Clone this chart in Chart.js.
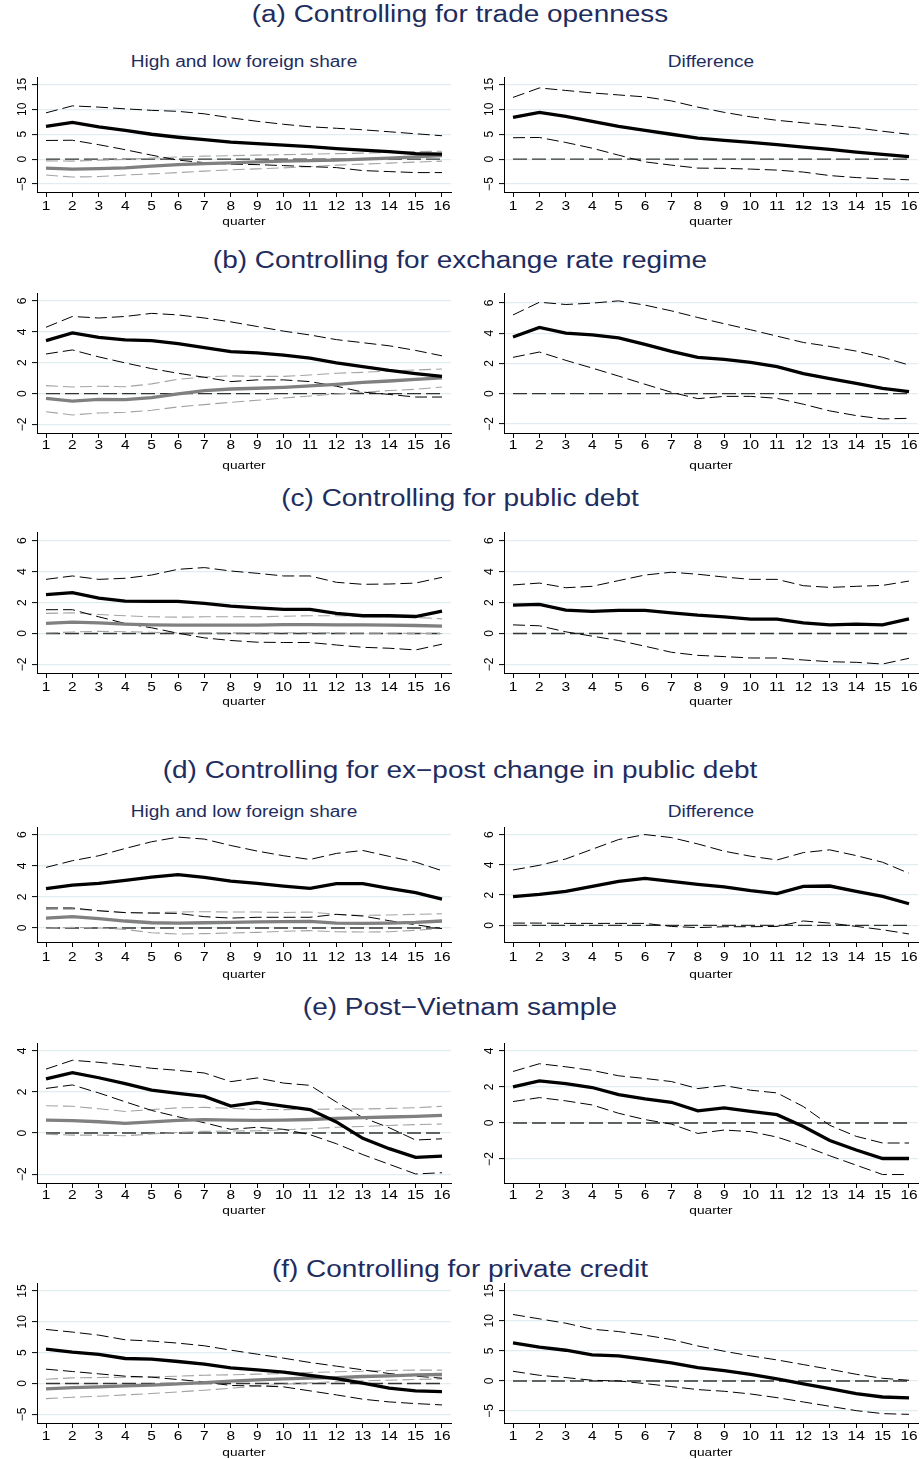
<!DOCTYPE html>
<html>
<head>
<meta charset="utf-8">
<script src="https://cdn.jsdelivr.net/npm/chart.js@4.4.1/dist/chart.umd.min.js"></script>
<style>
  html, body { margin: 0; padding: 0; background: #fff; }
  body { position: relative; width: 920px; height: 1459px; overflow: hidden; }
  .ttl, .sub {
    position: absolute; white-space: nowrap; line-height: 1;
    font-family: 'Liberation Sans', Arial, sans-serif; color: #1e2c5e;
    transform: translate(-50%, -50%) scaleX(1.19);
  }
  .ttl { font-size: 23.5px; left: 460px; }
  .sub { font-size: 16px; }
  canvas { position: absolute; }
</style>
</head>
<body>
<div class="ttl" style="top:15px">(a) Controlling for trade openness</div>
<div class="sub" style="top:62px;left:244px">High and low foreign share</div>
<div class="sub" style="top:62px;left:711px">Difference</div>
<div class="ttl" style="top:261px">(b) Controlling for exchange rate regime</div>
<div class="ttl" style="top:499px">(c) Controlling for public debt</div>
<div class="ttl" style="top:771px">(d) Controlling for ex&#8722;post change in public debt</div>
<div class="sub" style="top:812px;left:244px">High and low foreign share</div>
<div class="sub" style="top:812px;left:711px">Difference</div>
<div class="ttl" style="top:1008px">(e) Post&#8722;Vietnam sample</div>
<div class="ttl" style="top:1270px">(f) Controlling for private credit</div>

<script>
// Horizon (quarters after the shock)
const quarters = [1,2,3,4,5,6,7,8,9,10,11,12,13,14,15,16];

// y tick labels per panel
const ticksA = [-5, 0, 5, 10, 15];
const ticksB = [-2, 0, 2, 4, 6];
const ticksC = [-2, 0, 2, 4, 6];
const ticksD = [0, 2, 4, 6];
const ticksE = [-2, 0, 2, 4];
const ticksF = [-5, 0, 5, 10, 15];

// (a) trade openness
const aHigh   = [6.56,7.37,6.5,5.76,5.0,4.4,3.9,3.4,3.1,2.8,2.5,2.1,1.8,1.5,1.1,1.0];
const aHighUp = [9.3,10.7,10.45,10.1,9.8,9.6,9.1,8.3,7.6,7.0,6.5,6.2,5.9,5.5,5.1,4.7];
const aHighLo = [3.75,3.8,2.9,1.9,0.8,-0.2,-0.7,-1.0,-1.1,-1.3,-1.5,-1.7,-2.3,-2.5,-2.7,-2.7];
const aLow    = [-1.8,-2.0,-1.9,-1.75,-1.4,-1.1,-0.9,-0.75,-0.55,-0.4,-0.3,-0.2,0,0.2,0.45,0.7];
const aLowUp  = [-0.35,-0.4,-0.2,-0.05,0.2,0.45,0.6,0.7,0.8,0.9,1.0,1.1,1.2,1.35,1.5,1.6];
const aLowLo  = [-3.2,-3.6,-3.5,-3.2,-2.95,-2.7,-2.4,-2.15,-1.95,-1.75,-1.5,-1.2,-1.0,-0.8,-0.6,-0.4];
const aDiff   = [8.4,9.4,8.6,7.6,6.6,5.8,5.0,4.2,3.75,3.35,2.9,2.4,1.95,1.4,0.95,0.5];
const aDiffUp = [12.4,14.3,13.8,13.3,12.9,12.5,11.7,10.45,9.4,8.5,7.8,7.3,6.8,6.3,5.6,5.0];
const aDiffLo = [4.3,4.35,3.35,2.2,0.8,-0.55,-1.2,-1.8,-1.85,-2.0,-2.2,-2.6,-3.3,-3.7,-3.95,-4.15];

// (b) exchange rate regime
const bHigh   = [3.44,3.93,3.65,3.48,3.44,3.24,2.98,2.72,2.64,2.5,2.3,2.0,1.75,1.5,1.3,1.12];
const bHighUp = [4.3,5.0,4.9,5.0,5.2,5.1,4.9,4.65,4.35,4.05,3.8,3.5,3.3,3.1,2.8,2.45];
const bHighLo = [2.57,2.83,2.38,1.99,1.62,1.32,1.06,0.78,0.89,0.89,0.78,0.48,0.1,-0.05,-0.22,-0.22];
const bLow    = [-0.3,-0.48,-0.37,-0.39,-0.26,-0.02,0.2,0.3,0.35,0.41,0.5,0.6,0.73,0.82,0.93,1.02];
const bLowUp  = [0.52,0.43,0.48,0.45,0.63,0.93,1.08,1.15,1.12,1.12,1.21,1.32,1.38,1.47,1.53,1.6];
const bLowLo  = [-1.17,-1.38,-1.25,-1.21,-1.08,-0.86,-0.71,-0.56,-0.43,-0.28,-0.15,-0.02,0.09,0.2,0.28,0.43];
const bDiff   = [3.74,4.37,4.0,3.89,3.69,3.25,2.79,2.4,2.26,2.07,1.78,1.32,0.99,0.68,0.35,0.13];
const bDiffUp = [5.2,6.04,5.89,5.98,6.13,5.85,5.47,5.03,4.62,4.22,3.8,3.38,3.12,2.81,2.4,1.89];
const bDiffLo = [2.4,2.75,2.2,1.69,1.16,0.62,0.09,-0.33,-0.18,-0.18,-0.31,-0.7,-1.14,-1.45,-1.67,-1.63];

// (c) public debt
const cHigh   = [2.51,2.64,2.29,2.1,2.08,2.08,1.95,1.77,1.66,1.56,1.56,1.3,1.15,1.15,1.1,1.45];
const cHighUp = [3.5,3.72,3.5,3.57,3.78,4.15,4.26,4.04,3.89,3.72,3.72,3.31,3.18,3.2,3.26,3.63];
const cHighLo = [1.54,1.54,1.08,0.65,0.37,0.02,-0.28,-0.45,-0.56,-0.58,-0.58,-0.74,-0.89,-0.95,-1.06,-0.69];
const cLow    = [0.65,0.74,0.69,0.61,0.56,0.54,0.54,0.54,0.54,0.58,0.58,0.56,0.56,0.54,0.52,0.48];
const cLowUp  = [1.3,1.34,1.23,1.15,1.08,1.06,1.08,1.08,1.08,1.12,1.15,1.15,1.12,1.08,1.04,0.95];
const cLowLo  = [0.03,0.1,0.14,0.12,0.08,0.05,0.04,0.04,0.04,0.05,0.05,0.04,0.03,0.02,0.01,0.0];
const cDiff   = [1.84,1.88,1.51,1.43,1.49,1.49,1.34,1.19,1.08,0.93,0.93,0.69,0.56,0.61,0.56,0.95];
const cDiffUp = [3.14,3.26,2.96,3.05,3.42,3.78,3.96,3.83,3.65,3.5,3.5,3.09,2.98,3.05,3.11,3.39];
const cDiffLo = [0.56,0.5,0.11,-0.17,-0.45,-0.82,-1.21,-1.41,-1.49,-1.58,-1.58,-1.71,-1.82,-1.86,-1.97,-1.6];

// (d) ex-post change in public debt
const dHigh   = [2.53,2.76,2.87,3.06,3.28,3.43,3.26,3.02,2.87,2.7,2.55,2.85,2.85,2.55,2.27,1.86];
const dHighUp = [3.9,4.33,4.65,5.12,5.55,5.85,5.72,5.31,4.95,4.65,4.41,4.8,4.99,4.61,4.24,3.69];
const dHighLo = [1.29,1.29,1.11,0.99,0.96,0.94,0.73,0.64,0.69,0.69,0.69,0.88,0.77,0.47,0.21,-0.04];
const dLow    = [0.64,0.73,0.6,0.45,0.34,0.32,0.34,0.36,0.39,0.41,0.43,0.32,0.3,0.32,0.36,0.45];
const dLowUp  = [1.2,1.22,1.11,1.0,0.98,1.03,1.05,1.03,1.03,1.0,1.03,0.88,0.81,0.84,0.88,0.92];
const dLowLo  = [-0.02,0.04,0,-0.09,-0.3,-0.39,-0.36,-0.32,-0.28,-0.21,-0.17,-0.24,-0.26,-0.24,-0.15,-0.02];
const dDiff   = [1.9,2.05,2.25,2.58,2.91,3.11,2.91,2.71,2.54,2.29,2.1,2.58,2.6,2.25,1.92,1.43];
const dDiffUp = [3.66,3.97,4.39,5.03,5.67,6.0,5.8,5.38,4.9,4.57,4.32,4.81,4.99,4.61,4.17,3.44];
const dDiffLo = [0.15,0.15,0.13,0.13,0.13,0.13,-0.07,-0.15,-0.09,-0.09,-0.07,0.29,0.15,-0.07,-0.29,-0.57];

// (e) post-Vietnam sample
const eHigh   = [2.63,2.94,2.69,2.4,2.09,1.93,1.78,1.31,1.49,1.31,1.14,0.54,-0.26,-0.76,-1.18,-1.12];
const eHighUp = [3.11,3.54,3.44,3.31,3.15,3.05,2.92,2.5,2.68,2.43,2.32,1.51,0.75,0.26,-0.34,-0.28];
const eHighLo = [2.17,2.34,1.95,1.52,1.1,0.79,0.5,0.18,0.28,0.18,-0.08,-0.52,-1.05,-1.52,-1.99,-1.93];
const eLow    = [0.63,0.6,0.55,0.47,0.54,0.62,0.65,0.63,0.62,0.63,0.66,0.71,0.75,0.78,0.81,0.86];
const eLowUp  = [1.33,1.3,1.18,1.05,1.14,1.23,1.25,1.2,1.15,1.14,1.15,1.17,1.17,1.2,1.23,1.3];
const eLowLo  = [-0.06,-0.1,-0.1,-0.13,-0.05,0.03,0.08,0.1,0.11,0.16,0.21,0.28,0.32,0.37,0.41,0.44];
const eDiff   = [2.0,2.34,2.19,1.97,1.58,1.34,1.15,0.67,0.84,0.65,0.46,-0.2,-0.97,-1.5,-1.97,-1.97];
const eDiffUp = [2.86,3.29,3.12,2.92,2.62,2.47,2.3,1.91,2.08,1.82,1.67,0.91,-0.13,-0.74,-1.11,-1.11];
const eDiffLo = [1.19,1.41,1.23,1.0,0.54,0.19,-0.06,-0.58,-0.39,-0.48,-0.78,-1.26,-1.82,-2.34,-2.86,-2.86];

// (f) private credit
const fHigh   = [5.58,5.09,4.71,4.06,3.95,3.57,3.14,2.54,2.22,1.84,1.3,0.81,0.05,-0.76,-1.19,-1.3];
const fHighUp = [8.77,8.34,7.85,7.09,6.88,6.55,6.12,5.41,4.76,4.11,3.41,2.82,2.22,1.62,1.19,0.87];
const fHighLo = [2.33,1.95,1.57,1.19,1.03,0.65,0.27,-0.32,-0.38,-0.54,-1.19,-1.84,-2.54,-2.98,-3.25,-3.47];
const fLow    = [-0.87,-0.65,-0.54,-0.38,-0.27,-0.05,0.16,0.38,0.6,0.76,0.87,0.97,1.14,1.25,1.41,1.46];
const fLowUp  = [0.7,0.92,0.97,1.03,1.08,1.19,1.35,1.41,1.52,1.62,1.79,1.9,2.0,2.11,2.17,2.17];
const fLowLo  = [-2.44,-2.22,-2.06,-1.84,-1.62,-1.35,-1.08,-0.76,-0.43,-0.11,0.11,0.27,0.43,0.54,0.65,0.76];
const fDiff   = [6.33,5.61,5.11,4.33,4.17,3.61,3.0,2.22,1.72,1.11,0.33,-0.5,-1.28,-2.11,-2.67,-2.83];
const fDiffUp = [11.06,10.33,9.61,8.61,8.22,7.61,6.89,5.83,4.94,4.17,3.5,2.72,1.94,1.11,0.44,0.11];
const fDiffLo = [1.61,0.94,0.56,0.11,0,-0.44,-0.94,-1.44,-1.72,-2.17,-2.78,-3.5,-4.22,-4.94,-5.44,-5.56];

// reference level drawn as a dashed line in every panel
const zeroLevel = 0;

// ---------- drawing ----------
const TEXT_SX = 1.19;          // horizontal stretch applied to axis text
const GRID = '#e2edf1';
const BLACK = '#000000';
const GRAY = '#808080';
const GRAY_CI = '#a3a3a3';
const ZERO = '#333333';

function minusFmt(v) { return v < 0 ? '\u2212' + Math.abs(v) : String(v); }

const axisText = {
  id: 'axisText',
  afterDraw(chart, _args, o) {
    const ctx = chart.ctx, xs = chart.scales.x, ys = chart.scales.y;
    ctx.save();
    ctx.fillStyle = '#000';
    ctx.textAlign = 'center';
    ctx.textBaseline = 'middle';
    ctx.font = o.xFont;
    xs.ticks.forEach(t => {
      ctx.save();
      ctx.translate(xs.getPixelForValue(t.value), xs.top + o.xLabelOffset);
      ctx.scale(TEXT_SX, 1);
      ctx.fillText(String(t.value), 0, 0);
      ctx.restore();
    });
    ctx.font = o.titleFont;
    ctx.save();
    ctx.translate((xs.left + xs.right) / 2, xs.top + o.titleOffset);
    ctx.scale(TEXT_SX, 1);
    ctx.fillText('quarter', 0, 0);
    ctx.restore();
    ctx.font = o.yFont;
    ys.ticks.forEach(t => {
      ctx.save();
      ctx.translate(ys.right - o.yLabelOffset, ys.getPixelForValue(t.value));
      ctx.rotate(-Math.PI / 2);
      ctx.fillText(minusFmt(t.value), 0, 0);
      ctx.restore();
    });
    ctx.restore();
  }
};

function series(values, color, width, dash) {
  return {
    data: quarters.map((q, i) => ({ x: q, y: values[i] })),
    borderColor: color, borderWidth: width, borderDash: dash || [],
    pointRadius: 0, tension: 0, fill: false, borderCapStyle: 'butt'
  };
}

function zeroSeries() {
  return series(quarters.map(() => zeroLevel), ZERO, 1.4, [14, 5]);
}

function pairDatasets(high, highUp, highLo, low, lowUp, lowLo) {
  return [
    series(high, BLACK, 3.3),
    series(low, GRAY, 3.3),
    series(highUp, BLACK, 1, [12, 5]),
    series(highLo, BLACK, 1, [12, 5]),
    series(lowUp, GRAY_CI, 1.1, [12, 5]),
    series(lowLo, GRAY_CI, 1.1, [12, 5]),
    zeroSeries()
  ];
}

function diffDatasets(diff, up, lo) {
  return [
    series(diff, BLACK, 3.3),
    series(up, BLACK, 1, [12, 5]),
    series(lo, BLACK, 1, [12, 5]),
    zeroSeries()
  ];
}

// panel rows: plot-area top/bottom in page pixels and label offsets
const rows = [
  { T: 77,   B: 192,  xLab: 14, xTitle: 30 },
  { T: 293,  B: 433,  xLab: 12.5, xTitle: 33 },
  { T: 532,  B: 673,  xLab: 14, xTitle: 29 },
  { T: 827,  B: 942,  xLab: 15, xTitle: 33 },
  { T: 1043, B: 1183, xLab: 12.5, xTitle: 28 },
  { T: 1283, B: 1423, xLab: 13, xTitle: 29.5 }
];

const panels = [
  { row: 0, side: 'L', ticks: ticksA, min: -6.6, max: 16.5, sets: pairDatasets(aHigh, aHighUp, aHighLo, aLow, aLowUp, aLowLo) },
  { row: 0, side: 'R', ticks: ticksA, min: -6.6, max: 16.5, sets: diffDatasets(aDiff, aDiffUp, aDiffLo) },
  { row: 1, side: 'L', ticks: ticksB, min: -2.55, max: 6.52, sets: pairDatasets(bHigh, bHighUp, bHighLo, bLow, bLowUp, bLowLo) },
  { row: 1, side: 'R', ticks: ticksB, min: -2.6, max: 6.65, sets: diffDatasets(bDiff, bDiffUp, bDiffLo) },
  { row: 2, side: 'L', ticks: ticksC, min: -2.55, max: 6.56, sets: pairDatasets(cHigh, cHighUp, cHighLo, cLow, cLowUp, cLowLo) },
  { row: 2, side: 'R', ticks: ticksC, min: -2.55, max: 6.56, sets: diffDatasets(cDiff, cDiffUp, cDiffLo) },
  { row: 3, side: 'L', ticks: ticksD, min: -0.9, max: 6.5, sets: pairDatasets(dHigh, dHighUp, dHighLo, dLow, dLowUp, dLowLo) },
  { row: 3, side: 'R', ticks: ticksD, min: -1.1, max: 6.5, sets: diffDatasets(dDiff, dDiffUp, dDiffLo) },
  { row: 4, side: 'L', ticks: ticksE, min: -2.43, max: 4.38, sets: pairDatasets(eHigh, eHighUp, eHighLo, eLow, eLowUp, eLowLo) },
  { row: 4, side: 'R', ticks: ticksE, min: -3.33, max: 4.44, sets: diffDatasets(eDiff, eDiffUp, eDiffLo) },
  { row: 5, side: 'L', ticks: ticksF, min: -6.4, max: 16.3, sets: pairDatasets(fHigh, fHighUp, fHighLo, fLow, fLowUp, fLowLo) },
  { row: 5, side: 'R', ticks: ticksF, min: -7.0, max: 16.3, sets: diffDatasets(fDiff, fDiffUp, fDiffLo) }
];

const PAD_TOP = 6, PAD_BOTTOM = 2, X_AXIS_H = 40, CANVAS_W = 460;

panels.forEach(p => {
  const r = rows[p.row];
  const left = p.side === 'L' ? 0 : 460;
  const yAxisW = p.side === 'L' ? 37 : 44;
  const padRight = p.side === 'L' ? 9 : 2;
  const canvas = document.createElement('canvas');
  canvas.width = CANVAS_W;
  canvas.height = PAD_TOP + (r.B - r.T) + X_AXIS_H + PAD_BOTTOM;
  canvas.style.left = left + 'px';
  canvas.style.top = (r.T - PAD_TOP) + 'px';
  document.body.appendChild(canvas);

  new Chart(canvas, {
    type: 'line',
    data: { datasets: p.sets },
    plugins: [axisText],
    options: {
      responsive: false,
      animation: false,
      devicePixelRatio: 1,
      events: [],
      layout: { padding: { top: PAD_TOP, bottom: PAD_BOTTOM, left: 0, right: padRight } },
      plugins: {
        legend: { display: false },
        tooltip: { enabled: false },
        axisText: {
          xFont: "13px 'Liberation Sans', Arial, sans-serif",
          yFont: "12px 'Liberation Sans', Arial, sans-serif",
          titleFont: "11.5px 'Liberation Sans', Arial, sans-serif",
          xLabelOffset: r.xLab,
          titleOffset: r.xTitle,
          yLabelOffset: 14.5
        }
      },
      scales: {
        x: {
          type: 'linear', min: 0.659, max: 16.341,
          afterBuildTicks: s => { s.ticks = quarters.map(v => ({ value: v })); },
          afterFit: s => { s.height = X_AXIS_H; },
          ticks: { display: false },
          grid: { drawOnChartArea: false, drawTicks: true, tickLength: 5, tickColor: '#000', tickWidth: 1 },
          border: { display: true, color: '#000', width: 1 }
        },
        y: {
          type: 'linear', min: p.min, max: p.max,
          afterBuildTicks: s => { s.ticks = p.ticks.map(v => ({ value: v })); },
          afterFit: s => { s.width = yAxisW; },
          ticks: { display: false },
          grid: { drawOnChartArea: true, color: GRID, lineWidth: 1.2, drawTicks: true, tickLength: 5, tickColor: '#000', tickWidth: 1 },
          border: { display: true, color: '#000', width: 1 }
        }
      }
    }
  });
});
</script>
</body>
</html>
